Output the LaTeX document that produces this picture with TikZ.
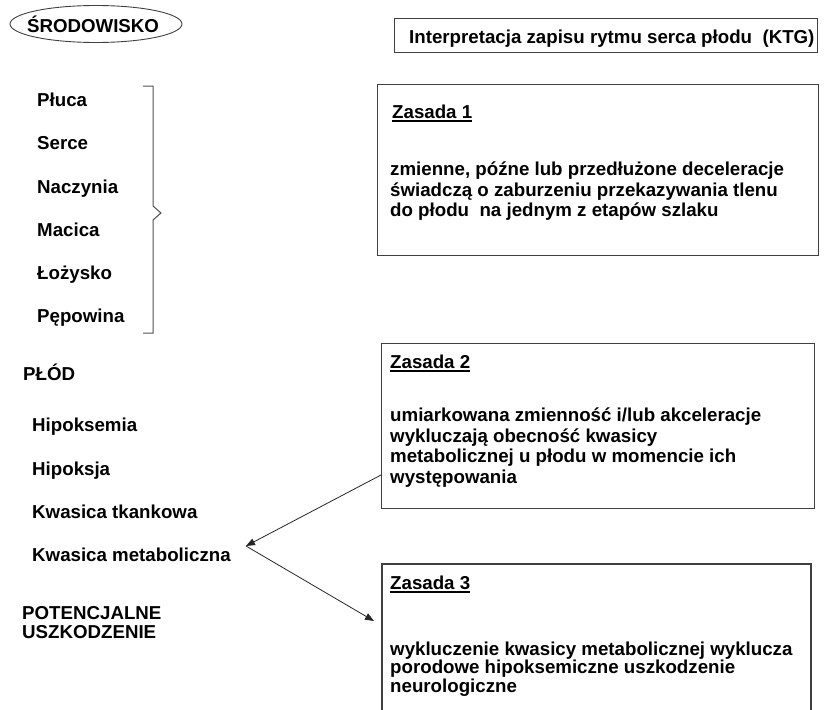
\documentclass[tikz,border=0pt]{standalone}
\usepackage{fontspec}
\setmainfont{Liberation Sans}
\usetikzlibrary{arrows.meta}
\definecolor{framec}{HTML}{404040}
\definecolor{bracec}{HTML}{505050}
\begin{document}
\begin{tikzpicture}[x=1pt,y=-1pt,
  txt/.style={anchor=base west,inner sep=0pt,font=\bfseries\fontsize{18.7}{20.5}\selectfont},
  body/.style={txt,align=left},
  frame/.style={draw=framec,line width=1.1pt,inner sep=0pt,anchor=north west},
  uline/.style={draw=black,line width=1.5pt},
  link/.style={draw=black!85,line width=0.8pt,-{Triangle[length=9pt,width=7pt]}}]
\useasboundingbox (0,0) rectangle (824,709);
\clip (0,0) rectangle (824,709);

% environment heading in its oval
\draw[draw=framec,line width=0.9pt] (96,24) ellipse [x radius=86, y radius=18.5];
\node[txt,anchor=base] (env) at (93,33) {ŚRODOWISKO};

% organs of the environment
\node[txt] (pluca)   at (37,106.5) {Płuca};
\node[txt] (serce)   at (37,149.5) {Serce};
\node[txt] (naczynia) at (37,193) {Naczynia};
\node[txt] (macica)  at (37,236.5) {Macica};
\node[txt] (lozysko) at (37,279.5) {Łożysko};
\node[txt] (pepowina) at (37,322.5) {Pępowina};

% brace grouping the organs
\draw[draw=bracec,line width=1pt]
  (143,86) -- (153,86) -- (153,206) -- (161,213) -- (153,220) -- (153,333) -- (143,333);

% fetus
\node[txt] (plod)   at (23,380) {PŁÓD};
\node[txt] (hipoks) at (32,431.5) {Hipoksemia};
\node[txt] (hipoksja) at (32,475) {Hipoksja};
\node[txt] (ktk)    at (32,518) {Kwasica tkankowa};
\node[txt] (km)     at (32,561) {Kwasica metaboliczna};
\node[txt] (pot)    at (22,619) {POTENCJALNE};
\node[txt] (usz)    at (22,638.5) {USZKODZENIE};

% title
\node[frame,minimum width=423pt,minimum height=34pt] (titlebox) at (394,18) {};
\node[txt] (title) at (409,43.3) {Interpretacja zapisu rytmu serca płodu\ \ (KTG)};

% rule 1 (multi-line nodes are anchored on their last baseline)
\node[frame,minimum width=441pt,minimum height=171pt] (z1) at (377,84) {};
\node[txt] (z1h) at (392,118) {Zasada 1};
\draw[uline] ([yshift=-3pt]z1h.base west) -- ([yshift=-3pt]z1h.base east);
\node[body] (z1t) at (390,216.5) {zmienne, późne lub przedłużone deceleracje\\
  świadczą o zaburzeniu przekazywania tlenu\\
  do płodu\ \ na jednym z etapów szlaku};

% rule 2
\node[frame,minimum width=433pt,minimum height=165pt] (z2) at (381,343) {};
\node[txt] (z2h) at (390,368) {Zasada 2};
\draw[uline] ([yshift=-3pt]z2h.base west) -- ([yshift=-3pt]z2h.base east);
\node[body] (z2t) at (390,483) {umiarkowana zmienność i/lub akceleracje\\
  wykluczają obecność kwasicy\\
  metabolicznej u płodu w momencie ich\\
  występowania};

% rule 3 (runs past the lower edge)
\draw[draw=framec,line width=1.1pt] (382,720) -- (382,564) -- (811,564) -- (811,720);
\node[txt] (z3h) at (390,589) {Zasada 3};
\draw[uline] ([yshift=-3pt]z3h.base west) -- ([yshift=-3pt]z3h.base east);
\node[body,font=\bfseries\fontsize{18.7}{18.7}\selectfont] (z3t) at (390,692.5)
  {wykluczenie kwasicy metabolicznej wyklucza\\
  porodowe hipoksemiczne uszkodzenie\\
  neurologiczne};

% connectors
\coordinate (z2pt) at (381,475);
\coordinate (kmpt) at (246,546);
\coordinate (z3pt) at (374,621);
\draw[link] (z2pt) -- (kmpt);
\draw[link] (kmpt) -- (z3pt);
\end{tikzpicture}
\end{document}
